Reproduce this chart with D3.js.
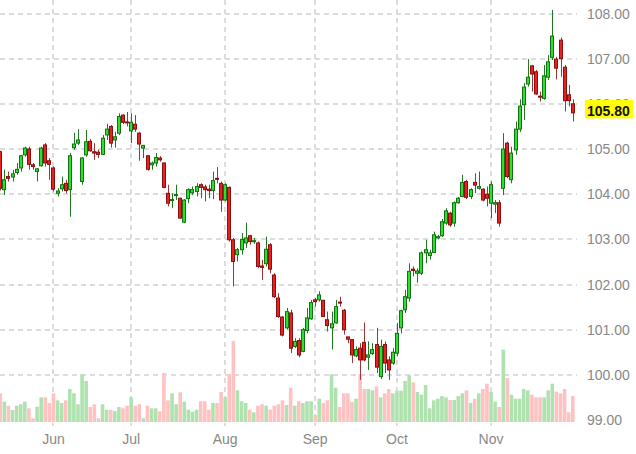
<!DOCTYPE html>
<html><head><meta charset="utf-8">
<script src="https://cdn.jsdelivr.net/npm/d3@7"></script>
<style>html,body{margin:0;padding:0;background:#fff;} svg{display:block;}</style>
</head><body><svg id="c" width="636" height="454"></svg>
<script>
const opens = [104.94,104.10,104.39,104.38,104.48,104.58,104.87,105.00,104.65,104.50,104.63,105.09,104.74,104.58,104.02,104.12,104.24,104.10,105.03,105.13,
104.28,104.87,105.17,104.94,104.93,104.88,105.31,105.50,105.20,105.35,105.75,105.60,105.40,105.55,105.35,105.02,104.85,104.65,104.69,104.80,
104.69,104.02,103.86,103.97,103.91,103.38,103.90,104.03,104.06,104.21,104.16,104.11,104.08,104.35,104.24,103.87,104.15,102.99,102.66,102.77,
102.92,103.08,102.95,102.92,102.41,102.46,102.88,102.21,101.70,101.28,101.04,101.37,100.63,100.76,100.52,100.98,101.24,101.66,101.66,101.65,
101.22,101.04,101.15,101.61,101.43,100.84,100.78,100.42,100.59,100.72,100.39,100.47,100.67,99.96,100.67,100.33,100.26,100.48,101.04,101.44,
101.70,102.34,102.25,102.25,102.70,102.64,102.71,103.03,103.08,103.36,103.58,103.36,103.81,103.95,104.28,103.95,104.26,104.13,104.11,104.00,
103.80,103.78,103.81,104.13,105.13,104.32,104.98,105.44,105.98,106.44,106.84,106.71,106.17,106.12,106.59,107.03,106.99,107.41,106.81,106.20,106.00];
const highs = [104.96,104.54,104.50,104.54,104.69,104.87,105.05,105.05,104.69,104.58,105.05,105.13,104.80,104.61,104.13,104.39,104.32,104.91,105.36,105.44,
104.82,105.42,105.22,105.13,104.99,105.31,105.56,105.53,105.38,105.79,105.77,105.82,105.79,105.75,105.38,105.09,104.87,104.72,104.91,104.84,
104.70,104.21,104.02,104.21,103.92,103.89,104.13,104.17,104.24,104.24,104.21,104.21,104.50,104.60,104.28,104.24,104.17,103.03,102.81,103.14,
103.37,103.10,103.03,102.95,102.55,103.06,102.92,102.25,101.81,101.30,101.48,101.44,100.81,100.81,101.04,101.48,101.66,101.70,101.85,101.66,
101.40,101.40,101.66,101.73,101.46,100.84,100.79,100.63,100.70,101.16,100.74,100.70,101.04,100.78,100.74,100.41,100.59,101.15,101.44,101.88,
102.47,102.40,102.36,102.73,102.99,102.77,103.17,103.10,103.45,103.69,103.61,103.84,103.94,104.43,104.32,104.13,104.46,104.50,104.13,104.17,
104.28,103.87,103.87,105.35,105.16,105.05,105.61,106.10,106.46,106.99,106.86,106.75,106.27,106.86,107.08,108.08,107.04,107.47,106.86,106.42,106.10];
const lows = [104.08,103.98,104.28,104.28,104.43,104.50,104.83,104.54,104.54,104.28,104.61,104.61,104.32,104.06,103.95,104.06,104.02,103.50,104.98,105.09,
104.21,104.83,104.94,104.76,104.80,104.87,105.20,105.03,105.03,105.31,105.55,105.50,105.13,105.38,104.74,104.80,104.52,104.54,104.61,104.72,
104.13,103.73,103.69,103.87,103.46,103.36,103.80,103.98,103.95,103.91,103.84,103.91,103.89,104.24,103.61,103.84,102.95,101.96,102.51,102.66,
102.81,102.88,102.90,102.36,102.10,102.40,102.25,101.70,101.26,100.85,101.00,100.48,100.59,100.39,100.50,100.92,101.22,101.51,101.62,101.28,
100.96,100.56,101.13,101.51,100.89,100.70,100.26,100.39,99.89,100.30,100.11,100.44,100.04,99.91,100.04,99.89,100.22,100.41,100.92,101.37,
101.62,102.18,102.04,102.21,102.47,102.55,102.70,103.00,103.05,103.32,103.28,103.28,103.79,103.93,103.89,103.89,104.02,104.10,103.84,103.73,
103.47,103.58,103.28,103.98,104.35,104.24,104.87,105.38,105.64,106.38,106.27,106.20,106.05,106.09,106.53,106.97,106.54,106.60,105.83,105.94,105.61];
const closes = [104.13,104.32,104.35,104.45,104.55,104.85,105.02,104.66,104.61,104.56,105.02,104.69,104.66,104.11,104.07,104.21,104.08,104.85,105.11,105.20,
104.80,105.16,104.96,104.91,104.88,105.24,105.44,105.13,105.27,105.72,105.59,105.58,105.59,105.44,105.11,105.08,104.55,104.69,104.81,104.76,
104.15,103.80,103.88,103.99,103.47,103.87,104.10,104.10,104.17,104.15,104.10,104.08,104.30,104.33,103.87,104.21,102.99,102.51,102.77,103.00,
103.03,102.95,102.97,102.40,102.38,102.78,102.34,101.73,101.29,100.88,101.40,100.59,100.74,100.44,101.00,101.26,101.60,101.62,101.77,101.29,
101.09,101.13,101.51,101.59,101.00,100.79,100.44,100.56,100.33,100.33,100.44,100.56,100.17,100.63,100.26,100.11,100.50,100.92,101.42,101.73,
102.29,102.31,102.30,102.70,102.77,102.70,103.10,103.06,103.39,103.63,103.32,103.81,103.91,104.26,103.93,104.10,104.20,104.17,103.87,103.91,
104.21,103.81,103.36,105.00,104.39,104.91,105.44,105.95,106.37,106.59,106.66,106.22,106.15,106.62,106.93,107.50,106.79,107.00,106.07,106.07,105.80];
const volumes = [28.7,20.3,16.3,12,16.3,17.7,20.3,13.7,3.7,15.3,24.7,24.7,19,28.7,21.7,19,21.7,33,28.7,17.7,
47.7,41,15,17.7,3.7,17.7,12.3,12.3,11,15,13.7,16.3,24.7,16.3,17.7,3.7,16.3,13.7,13.7,10.7,
49,21.7,28.7,17.7,29.7,20.3,12.3,10.3,12.3,20.7,20.7,12.3,19,19,30,24.7,47.7,81,31.7,20.7,
19,12.3,9.7,16.3,17.7,16.3,12.3,16.3,17.7,21.7,17,34.3,16.3,20.7,19,20.7,20.7,7,23.3,19,
21.7,47.7,34.3,15,28.7,28.7,20.3,23.3,47.7,33,33,31.7,35.7,24.7,28.7,33,28.7,31.3,31.3,41,
46.7,39.7,30,27.3,37,13.7,21.7,23.3,26,24.7,22,22,26,28.7,31.7,19,23.3,28.7,33,38.3,
30,20.3,15,72.3,44,27.3,23.3,23.3,33,31.7,27.3,24.7,24.7,24.7,31.7,38.3,30.3,28.7,33,9.7,26];
const monthLabels = ["Jun","Jul","Aug","Sep","Oct","Nov"];
const monthIndex = [13,32,55,77,97,120];
const priceTicks = [99,100,101,102,103,104,105,106,107,108];
const lastPrice = 105.80;

const svg = d3.select("#c");
const n = opens.length;
const x = d3.scaleLinear().domain([0, n-1]).range([0.3, 572.8]);
const y = d3.scaleLinear().domain([99,108]).range([420,13.5]);
const v = d3.scaleLinear().domain([0, d3.max(volumes)]).range([422,341]);
const data = d3.range(n).map(i => ({i, o:opens[i], h:highs[i], l:lows[i], c:closes[i], vol:volumes[i], up: closes[i] >= opens[i]}));

const gridColor = "#dcdcdc";
svg.append("g").selectAll("line").data(priceTicks.filter(t => t >= 100)).join("line")
  .attr("x1",0).attr("x2",577)
  .attr("y1", d => Math.round(y(d))).attr("y2", d => Math.round(y(d)))
  .attr("stroke",gridColor).attr("stroke-width",2).attr("stroke-dasharray","5,4");
svg.append("g").selectAll("line").data(monthIndex).join("line")
  .attr("x1", d => Math.round(x(d))).attr("x2", d => Math.round(x(d)))
  .attr("y1",0).attr("y2",426)
  .attr("stroke",gridColor).attr("stroke-width",2).attr("stroke-dasharray","5,4");

svg.append("g").selectAll("rect").data(data).join("rect")
  .attr("x", d => x(d.i) - 1.8).attr("width", 3.6)
  .attr("y", d => v(d.vol)).attr("height", d => v(0) - v(d.vol))
  .attr("fill", d => d.up ? "#b0e2b0" : "#ffc2c2");

const cg = svg.append("g");
cg.selectAll("line").data(data).join("line")
  .attr("x1", d => Math.round(x(d.i)) + 0.5).attr("x2", d => Math.round(x(d.i)) + 0.5)
  .attr("y1", d => y(d.h)).attr("y2", d => y(d.l))
  .attr("stroke", d => d.up ? "#1f7a1f" : "#a03535").attr("stroke-width",1);
cg.selectAll("rect").data(data).join("rect")
  .attr("x", d => Math.round(x(d.i)) - 1.5).attr("width", 3)
  .attr("y", d => y(Math.max(d.o,d.c)))
  .attr("height", d => Math.max(1, Math.abs(y(d.o) - y(d.c))))
  .attr("fill", d => d.up ? "#2ee02e" : "#e82020")
  .attr("stroke", d => d.up ? "#137013" : "#8a1010").attr("stroke-width",1);

const font = "'Liberation Sans', Arial, sans-serif";
svg.append("g").selectAll("text").data(priceTicks).join("text")
  .attr("x",587).attr("y", d => y(d) + 5)
  .attr("font-family",font).attr("font-size",14).attr("fill","#888")
  .text(d => d.toFixed(2));

svg.append("g").selectAll("text").data(monthIndex).join("text")
  .attr("x", d => x(d)).attr("y",444).attr("text-anchor","middle")
  .attr("font-family",font).attr("font-size",14).attr("fill","#888")
  .text((d,k) => monthLabels[k]);

const ly = y(lastPrice);
svg.append("rect").attr("x",585).attr("y",ly-13).attr("width",48).attr("height",18.5).attr("fill","#ffff00");
svg.append("text").attr("x",587).attr("y",ly+3.5)
  .attr("font-family",font).attr("font-size",14).attr("font-weight","bold").attr("fill","#111")
  .text(lastPrice.toFixed(2));
</script></body></html>
